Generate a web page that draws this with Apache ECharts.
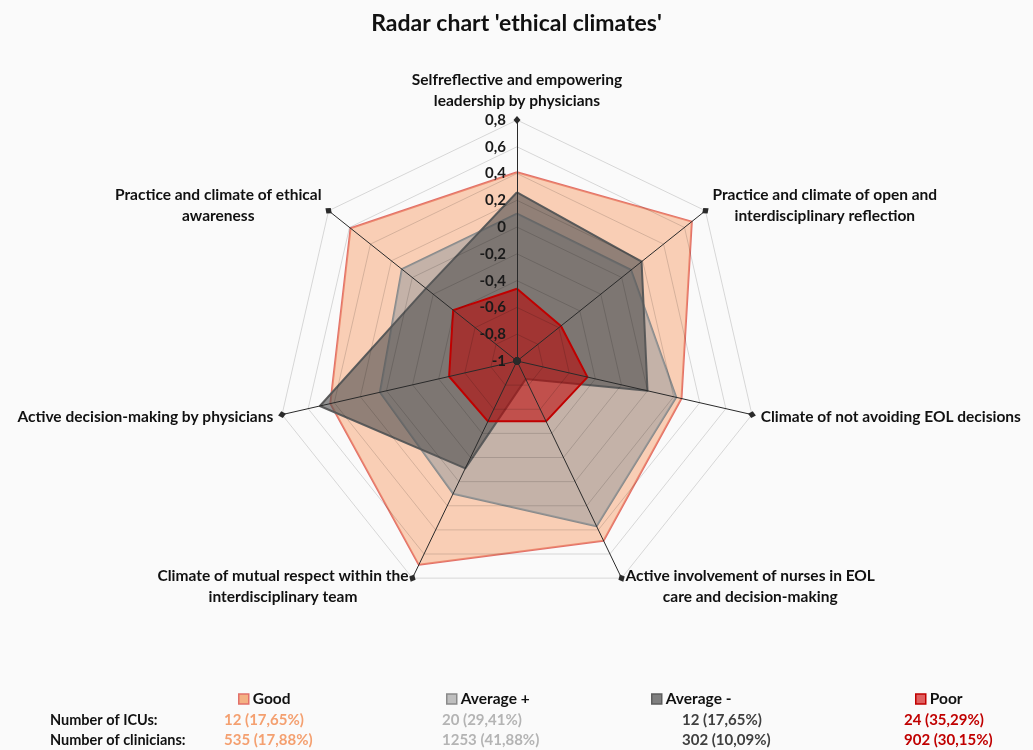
<!DOCTYPE html>
<html>
<head>
<meta charset="utf-8">
<script src="https://cdn.jsdelivr.net/npm/echarts@6/dist/echarts.min.js"></script>
<style>html,body{margin:0;padding:0;background:#FAFAFA;}#chart{width:1033px;height:750px;}</style>
</head>
<body>
<div id="chart"></div>
<script>
// Indicators in the order ECharts draws them (top, then counter-clockwise)
const categories = [
  'Selfreflective and empowering\nleadership by physicians',
  'Practice and climate of ethical\nawareness',
  'Active decision-making by physicians',
  'Climate of mutual respect within the\ninterdisciplinary team',
  'Active involvement of nurses in EOL\ncare and decision-making',
  'Climate of not avoiding EOL decisions',
  'Practice and climate of open and\ninterdisciplinary reflection'
];
const seriesNames = ['Good', 'Average +', 'Average -', 'Poor'];
const goodValues     = [0.41, 0.59, 0.43, 0.69, 0.49, 0.26, 0.67];
const avgPlusValues  = [0.10, 0.10, 0.05, 0.10, 0.37, 0.22, 0.09];
const avgMinusValues = [0.26, -0.13, 0.51, -0.11, -0.85, 0.00, 0.19];
const poorValues     = [-0.46, -0.39, -0.48, -0.50, -0.50, -0.46, -0.58];
const axisMin = -1, axisMax = 0.8, axisSplits = 9;
const rowLabels = ['Number of ICUs:', 'Number of clinicians:'];
const icuCounts = ['12 (17,65%)', '20 (29,41%)', '12 (17,65%)', '24 (35,29%)'];
const clinicianCounts = ['535 (17,88%)', '1253 (41,88%)', '302 (10,09%)', '902 (30,15%)'];

const FONT = 'Lato';
const lineColors = ['#E2706A', '#8A8A8A', '#5E5E5E', '#C00000'];
const areaColors = ['rgba(248,164,116,0.52)', 'rgba(160,160,160,0.6)', 'rgba(80,80,80,0.62)', 'rgba(192,0,0,0.55)'];
const iconFill = ['#F4B183', '#BFBFBF', '#7F7F7F', '#E06060'];
const textColors = ['#F4A070', '#B4B4B4', '#404040', '#C00000'];
const valueSets = [goodValues, avgPlusValues, avgMinusValues, poorValues];
const legendX = [233, 441, 646, 910];
const valueX = [224, 442, 682, 904];

const indicator = categories.map((c, i) => {
  const o = { name: c, min: axisMin, max: axisMax };
  if (i === 0) {
    o.axisLabel = {
      show: true, color: '#1a1a1a', fontWeight: 'bold', fontSize: 15, fontFamily: FONT, margin: 11,
      formatter: v => String(Math.round(v * 10) / 10).replace('.', ',')
    };
  }
  return o;
});

const chart = echarts.init(document.getElementById('chart'));
const legends = seriesNames.map((n, i) => ({
  data: [n], left: legendX[i], top: 686, itemWidth: 10, itemHeight: 10, itemGap: 4,
  icon: 'rect', selectedMode: false,
  textStyle: { fontFamily: FONT, fontWeight: 'bold', fontSize: 15.5, color: '#111', padding: [0,0,0,-1] },
  itemStyle: { color: iconFill[i], borderColor: lineColors[i], borderWidth: 1.5 }
}));

const graphics = [];
rowLabels.forEach((t, r) => {
  graphics.push({ type: 'text', left: 50, top: 713 + r * 20,
    style: { text: t, fontFamily: FONT, fontWeight: 'bold', fontSize: 14.5, fill: '#111' } });
});
[icuCounts, clinicianCounts].forEach((arr, r) => {
  arr.forEach((t, i) => {
    graphics.push({ type: 'text', left: valueX[i], top: 713 + r * 20,
      style: { text: t, fontFamily: FONT, fontWeight: 'bold', fontSize: 15, fill: textColors[i] } });
  });
});

chart.setOption({
  backgroundColor: '#FAFAFA',
  animation: false,
  title: { text: "Radar chart 'ethical climates'", left: 'center', top: 7,
    textStyle: { fontFamily: FONT, fontWeight: 'bold', fontSize: 23, color: '#111' } },
  legend: legends,
  graphic: graphics,
  radar: {
    z: 5,
    center: [517, 361], radius: 241, startAngle: 90, shape: 'polygon',
    splitNumber: axisSplits,
    indicator: indicator,
    axisName: {
      fontFamily: FONT, fontWeight: 'bold', fontSize: 15.5, color: '#111',
      formatter: v => v.split('\n').map(s => '{c|' + s + '}').join('\n'),
      rich: { c: { align: 'center', fontFamily: FONT, fontWeight: 'bold', fontSize: 15.5, color: '#111', lineHeight: 21 } }
    },
    nameGap: 9,
    axisLine: { lineStyle: { color: '#2a2a2a', width: 1 }, symbol: ['circle', 'diamond'], symbolSize: [7, 8] },
    splitLine: { lineStyle: { color: 'rgba(0,0,0,0.14)', width: 1 } },
    splitArea: { show: false },
    axisTick: { show: false },
    axisLabel: { show: false }
  },
  series: [{
    type: 'radar',
    z: 1,
    symbol: 'none',
    data: seriesNames.map((n, i) => ({
      name: n, value: valueSets[i],
      lineStyle: { color: lineColors[i], width: 2 },
      areaStyle: { color: areaColors[i], opacity: 1 },
      itemStyle: { color: iconFill[i], borderColor: lineColors[i] }
    }))
  }]
});
</script>
</body>
</html>
